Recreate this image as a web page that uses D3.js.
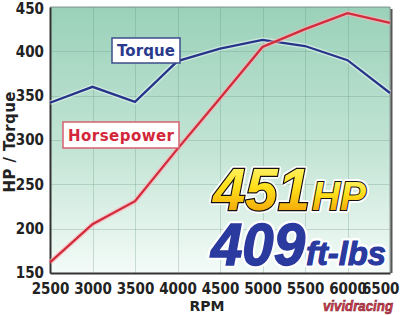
<!DOCTYPE html>
<html>
<head>
<meta charset="UTF-8">
<title>HP / Torque</title>
<script src="https://cdn.jsdelivr.net/npm/d3@7"></script>
<style>
body { margin:0; background:#fff; }
.tick text { font-family:"Liberation Sans Narrow","DejaVu Sans Condensed",sans-serif; font-weight:bold; font-size:15px; fill:#222; }
.grid line { stroke:#5f8f78; stroke-opacity:0.28; shape-rendering:crispEdges; }
.grid path { stroke-width:0; }
</style>
</head>
<body>
<div id="chart"></div>
<script>
// data
var rpm = [2500, 3000, 3500, 4000, 4500, 5000, 5500, 6000, 6500];
var torque = [342, 360, 343, 389, 403, 413, 406, 390, 353];
var hp = [162, 205, 231, 290, 347, 405, 425, 443, 432];
var yTicks = [150, 200, 250, 300, 350, 400, 450];

var width = 400, height = 315;
var padL = 50, padR = 390, padT = 7, padB = 273;

var x = d3.scaleLinear().domain([2500, 6500]).range([padL, padR]);
var y = d3.scaleLinear().domain([150, 450]).range([padB, padT]);

var svg = d3.select("#chart").append("svg")
	.attr("width", width)
	.attr("height", height);

var defs = svg.append("defs");
var bg = defs.append("linearGradient").attr("id", "bg")
	.attr("x1", 0).attr("y1", 0).attr("x2", 0).attr("y2", 1);
bg.append("stop").attr("offset", "0%").attr("stop-color", "#9ad1b9");
bg.append("stop").attr("offset", "55%").attr("stop-color", "#c4e5d6");
bg.append("stop").attr("offset", "100%").attr("stop-color", "#f4fbf8");

var gold = defs.append("linearGradient").attr("id", "gold")
	.attr("x1", 0).attr("y1", 0).attr("x2", 0).attr("y2", 1);
gold.append("stop").attr("offset", "0%").attr("stop-color", "#fffb8a");
gold.append("stop").attr("offset", "45%").attr("stop-color", "#ffe01a");
gold.append("stop").attr("offset", "100%").attr("stop-color", "#ef9200");

// plot area
svg.append("rect")
	.attr("x", padL).attr("y", padT)
	.attr("width", padR - padL).attr("height", padB - padT)
	.attr("fill", "url(#bg)");

// grid
svg.append("g").attr("class", "grid")
	.attr("transform", "translate(0," + padB + ")")
	.call(d3.axisBottom(x).tickValues(rpm).tickSize(padT - padB).tickFormat(""));
svg.append("g").attr("class", "grid")
	.attr("transform", "translate(" + padL + ",0)")
	.call(d3.axisLeft(y).tickValues(yTicks).tickSize(padL - padR).tickFormat(""));

// frame top/right
svg.append("path")
	.attr("d", "M" + padL + "," + padT + "H" + padR + "V" + padB)
	.attr("fill", "none").attr("stroke", "#8a9a94").attr("stroke-width", 1);
svg.append("line")
	.attr("x1", padR + 1.5).attr("x2", padR + 1.5).attr("y1", padT + 2).attr("y2", padB)
	.attr("stroke", "#555").attr("stroke-width", 2);

// axes
var xAxis = svg.append("g")
	.attr("transform", "translate(0," + padB + ")")
	.call(d3.axisBottom(x).tickValues(rpm).tickSize(0).tickPadding(10).tickFormat(d3.format("d")));
xAxis.select(".domain").attr("stroke", "#333").attr("stroke-width", 2);
xAxis.selectAll(".tick text").filter(function(d) { return d == 6500; })
	.attr("text-anchor", "end").attr("x", 9);

var yAxis = svg.append("g")
	.attr("transform", "translate(" + padL + ",0)")
	.call(d3.axisLeft(y).tickValues(yTicks).tickSize(0).tickPadding(6));
yAxis.select(".domain").attr("stroke", "#333").attr("stroke-width", 2);
yAxis.selectAll(".tick text").filter(function(d) { return d == 450; })
	.attr("dy", "0.45em");

// lines
var line = function(vals) {
	return d3.line()
		.x(function(d, i) { return x(rpm[i]); })
		.y(function(d) { return y(d); })(vals);
};
svg.append("path").attr("d", line(torque))
	.attr("fill", "none").attr("stroke", "#ffffff").attr("stroke-opacity", 0.45).attr("stroke-width", 5);
svg.append("path").attr("d", line(torque))
	.attr("fill", "none").attr("stroke", "#25358a").attr("stroke-width", 2.3);
svg.append("path").attr("d", line(hp))
	.attr("fill", "none").attr("stroke", "#ffb0b8").attr("stroke-opacity", 0.6).attr("stroke-width", 5);
svg.append("path").attr("d", line(hp))
	.attr("fill", "none").attr("stroke", "#d02c3c").attr("stroke-width", 2.3);

// legend boxes
svg.append("rect")
	.attr("x", 112).attr("y", 38).attr("width", 68).attr("height", 25)
	.attr("fill", "#fff").attr("stroke", "#3d4c8c").attr("stroke-width", 1.5);
svg.append("text").text("Torque")
	.attr("x", 146).attr("y", 56).attr("text-anchor", "middle")
	.attr("textLength", 58)
	.style("font-family", "DejaVu Sans, sans-serif").style("font-weight", "bold").style("font-size", "15px")
	.style("fill", "#2a3a8c");

svg.append("rect")
	.attr("x", 63).attr("y", 122).attr("width", 116).attr("height", 26)
	.attr("fill", "#fff").attr("stroke", "#d86070").attr("stroke-width", 1.5);
svg.append("text").text("Horsepower")
	.attr("x", 121).attr("y", 141).attr("text-anchor", "middle")
	.attr("textLength", 106)
	.style("font-family", "DejaVu Sans, sans-serif").style("font-weight", "bold").style("font-size", "15px")
	.style("fill", "#d4263a");

// axis titles
svg.append("text").text("RPM")
	.attr("x", 207).attr("y", 311).attr("text-anchor", "middle")
	.style("font-family", "DejaVu Sans, sans-serif").style("font-weight", "bold").style("font-size", "14px")
	.style("fill", "#222");
svg.append("text").text("HP / Torque")
	.attr("transform", "translate(15,142) rotate(-90)").attr("text-anchor", "middle")
	.attr("textLength", 101)
	.style("font-family", "DejaVu Sans, sans-serif").style("font-weight", "bold").style("font-size", "15px")
	.style("fill", "#222");

// big numbers
var big = function(t, xx, yy, size, len, fill) {
	svg.append("text").text(t)
		.attr("x", xx).attr("y", yy).attr("textLength", len).attr("lengthAdjust", "spacingAndGlyphs")
		.style("font-family", "Liberation Sans, Arial, sans-serif").style("font-weight", "bold")
		.style("font-style", "italic").style("font-size", size + "px")
		.style("fill", fill).style("stroke", "#fff").style("stroke-width", 6)
		.style("stroke-linejoin", "round").style("paint-order", "stroke");
	return svg.append("text").text(t)
		.attr("x", xx).attr("y", yy).attr("textLength", len).attr("lengthAdjust", "spacingAndGlyphs")
		.style("font-family", "Liberation Sans, Arial, sans-serif").style("font-weight", "bold")
		.style("font-style", "italic").style("font-size", size + "px")
		.style("fill", fill);
};
big("451", 213, 210, 59, 97, "url(#gold)").style("stroke", "#111").style("stroke-width", 2.4).style("paint-order", "stroke");
big("HP", 312, 210, 41, 54, "url(#gold)").style("stroke", "#111").style("stroke-width", 2).style("paint-order", "stroke");
big("409", 211, 265, 59, 94, "#2b3a9e").style("stroke", "#2b3a9e").style("stroke-width", 1.5);
big("ft-lbs", 306, 265, 34, 80, "#2b3a9e").style("stroke", "#2b3a9e").style("stroke-width", 1);

// watermark
svg.append("text").text("vividracing")
	.attr("x", 323).attr("y", 311).attr("textLength", 70).attr("lengthAdjust", "spacingAndGlyphs")
	.style("font-family", "Liberation Sans, Arial, sans-serif").style("font-weight", "bold")
	.style("font-style", "italic").style("font-size", "15px")
	.style("fill", "#d8404e").style("stroke", "#7a2030").style("stroke-width", 0.6);
</script>
</body>
</html>
